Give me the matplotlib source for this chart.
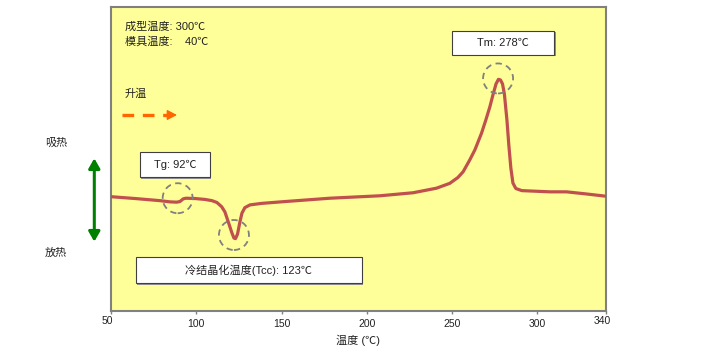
import matplotlib
matplotlib.use("Agg")
import matplotlib.pyplot as plt
from matplotlib.patches import Rectangle, Ellipse, FancyArrowPatch
from matplotlib.lines import Line2D
import matplotlib.transforms as mtransforms

plt.rcParams['font.family'] = ['Liberation Sans', 'Noto Sans CJK SC', 'DejaVu Sans']

# ---- data (DSC curve, heat flow in arbitrary units; endothermic up) ----
temperature = [50.0, 64.1, 78.7, 84.6, 88.5, 90.4, 92.4, 94.0, 99.2, 105.1,
               109.2, 112.1, 114.9, 116.8, 119.2, 120.9, 122.1, 123.0, 124.2,
               125.6, 126.8, 128.5, 131.5, 138.3, 152.0, 178.4, 207.7, 227.2,
               240.9, 248.7, 253.4, 256.5, 260.4, 263.4, 267.3, 269.8, 272.2,
               274.0, 275.8, 277.2, 278.4, 279.6, 280.7, 282.2, 283.3, 284.5,
               285.7, 287.4, 290.9, 307.3, 317.1, 328.8, 339.6]
heat_flow = [37.6, 37.0, 36.3, 35.9, 35.8, 36.0, 36.9, 37.1, 37.0, 36.7,
             36.3, 35.7, 34.3, 32.6, 28.6, 25.7, 24.0, 23.8, 25.3,
             29.3, 32.2, 34.0, 34.9, 35.4, 36.0, 37.1, 37.9, 38.9,
             40.4, 42.0, 43.9, 45.8, 49.7, 53.0, 58.5, 62.8, 67.2,
             71.1, 74.7, 76.2, 76.0, 74.7, 71.4, 62.8, 54.6, 47.0,
             42.1, 40.3, 39.6, 39.2, 39.2, 38.5, 37.8]

x_ticks = [50, 100, 150, 200, 250, 300, 340]
x_tick_labels = ['50', '100', '150', '200', '250', '300', '340']

# marked transitions (temperature, heat flow) for dashed circles
events_T = [89.1, 122.1, 277.0]
events_H = [37.1, 25.0, 76.5]

W, H = 720, 355
fig = plt.figure(figsize=(W / 100, H / 100), dpi=100)


def fx(px):
    return px / W


def fy(py):
    return 1 - py / H


ax = fig.add_axes([fx(111), fy(311), (605.5 - 111) / W, (311 - 7) / H])
ax.set_facecolor('#FFFF99')
ax.set_xlim(50, 340)
ax.set_ylim(0, 100)
for s in ax.spines.values():
    s.set_color('#808080')
    s.set_linewidth(1.5)
ax.set_yticks([])
ax.set_xticks(x_ticks)
ax.set_xticklabels(x_tick_labels)
ax.tick_params(axis='x', length=2.2, width=1, color='#808080', pad=3.5,
               labelsize=7.5, labelcolor='#222222')

# shift end labels slightly (as in the reference)
labels = ax.get_xticklabels()
off = mtransforms.ScaledTranslation(-3.5 / 100, 2.5 / 100, fig.dpi_scale_trans)
labels[0].set_transform(labels[0].get_transform() + off)
labels[-1].set_transform(labels[-1].get_transform() + off)

ax.plot(temperature, heat_flow, color='#C0504D', lw=2.3,
        solid_joinstyle='round', solid_capstyle='round', zorder=3)

# dashed circles
for t, h in zip(events_T, events_H):
    e = Ellipse((t, h), width=30 / 1.7059, height=30 / 3.04, fill=False,
                edgecolor='#808080', lw=1.3, linestyle=(0, (3.5, 2.5)), zorder=4)
    ax.add_patch(e)

fig.text(358 / W, fy(340), '温度 (℃)', ha='center', va='center', fontsize=8,
         color='#222222')

# text boxes
boxes = [
    (140, 151.7, 210, 177.3, 'Tg: 92℃'),
    (136, 257.3, 361.7, 283.3, '冷结晶化温度(Tcc): 123℃'),
    (451.7, 30.7, 554.3, 55, 'Tm: 278℃'),
]
for x0, y0, x1, y1, txt in boxes:
    fig.add_artist(Rectangle((fx(x0 + 1.2), fy(y1 + 1.2)), (x1 - x0) / W, (y1 - y0) / H,
                             transform=fig.transFigure, facecolor='#909090',
                             edgecolor='none', zorder=5))
    fig.add_artist(Rectangle((fx(x0), fy(y1)), (x1 - x0) / W, (y1 - y0) / H,
                             transform=fig.transFigure, facecolor='white',
                             edgecolor='#404040', lw=0.8, zorder=6))
    fig.text(fx((x0 + x1) / 2), fy((y0 + y1) / 2), txt, ha='center', va='center',
             fontsize=8, color='#222222', zorder=7)

# condition texts
fig.text(fx(125), fy(27), '成型温度: 300℃', ha='left', va='center', fontsize=8,
         color='#222222')
fig.text(fx(125), fy(41), '模具温度:    40℃', ha='left', va='center', fontsize=8,
         color='#222222')
fig.text(fx(125), fy(94), '升温', ha='left', va='center', fontsize=8,
         color='#222222')

# orange dashed heating arrow
fig.add_artist(Line2D([fx(121.7), fx(170)], [fy(115), fy(115)],
                      transform=fig.transFigure, color='#FF6600', lw=2.4,
                      linestyle=(0, (3.5, 2.6)), solid_capstyle='butt',
                      dash_capstyle='butt', zorder=5))
fig.add_artist(FancyArrowPatch((fx(168), fy(115)), (fx(177), fy(115)),
                               transform=fig.transFigure,
                               arrowstyle='-|>,head_length=0.42,head_width=0.22',
                               mutation_scale=14, color='#FF6600', lw=1.0,
                               shrinkA=0, shrinkB=0, zorder=5))

# green double arrow (endo / exo)
fig.add_artist(FancyArrowPatch((fx(94.3), fy(241.7)), (fx(94.3), fy(158.3)),
                               transform=fig.transFigure,
                               arrowstyle='<|-|>,head_length=0.42,head_width=0.24',
                               mutation_scale=14, color='#008000', lw=2.2,
                               shrinkA=0, shrinkB=0, zorder=5))
fig.text(fx(56), fy(142.7), '吸热', ha='center', va='center', fontsize=8,
         color='#222222')
fig.text(fx(56), fy(252.7), '放热', ha='center', va='center', fontsize=8,
         color='#222222')

fig.savefig('out.png', dpi=100, facecolor='white')
